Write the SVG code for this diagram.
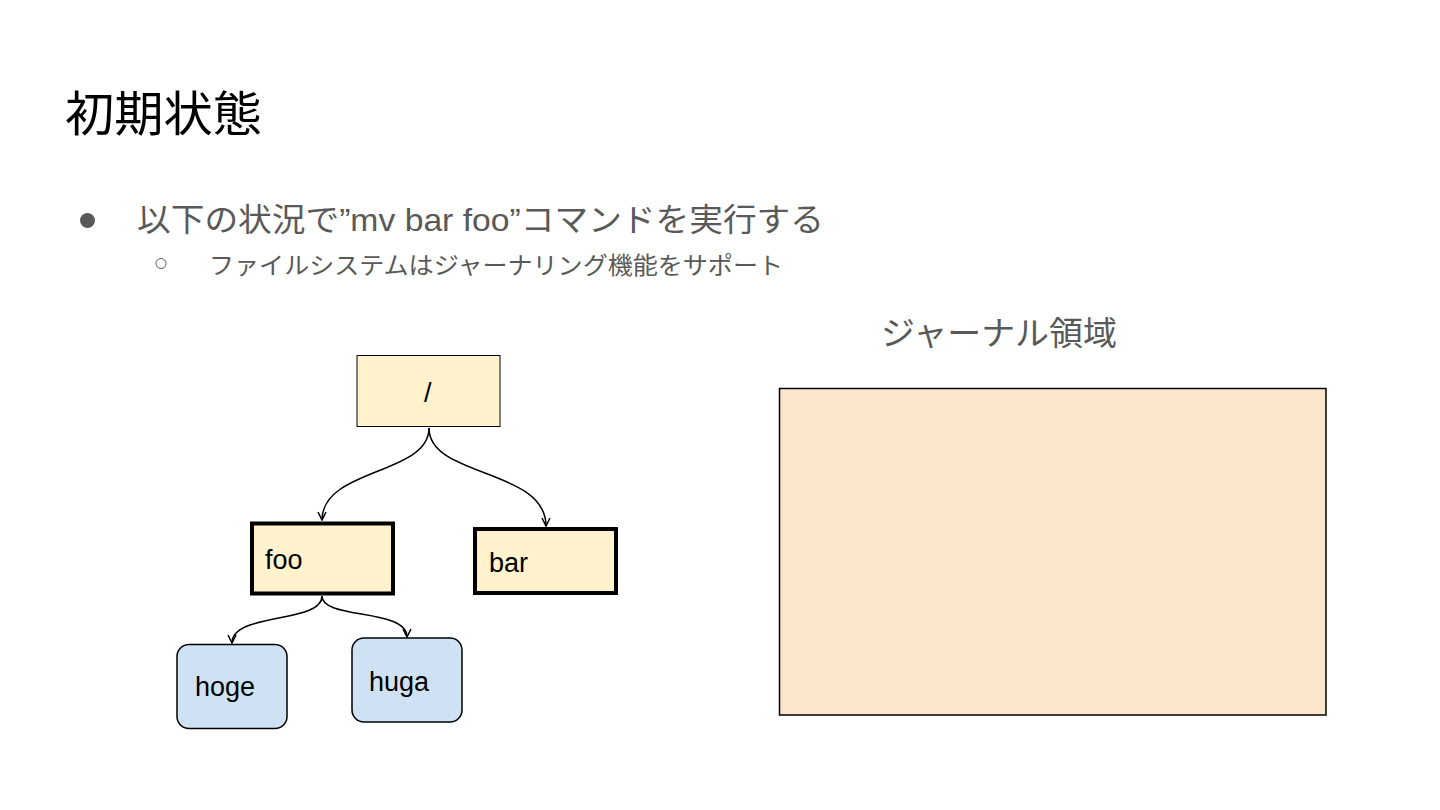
<svg xmlns="http://www.w3.org/2000/svg" width="1440" height="810" viewBox="0 0 1440 810">
  <style>
    .cjk { font-family: "Liberation Sans", "Noto Sans CJK JP", sans-serif; }
    .title { font-size: 48px; fill: #000000; }
    .b1 { font-size: 32px; fill: #595959; }
    .b2 { font-size: 24px; fill: #595959; }
    .lbl { font-family: "Liberation Sans", Arial, sans-serif; font-size: 27px; fill: #000000; }
    .dir { fill: #fff2cc; stroke: #000000; }
    .file { fill: #cfe2f3; stroke: #000000; stroke-width: 1.5; }
    .conn path { fill: none; stroke: #000000; stroke-width: 1.5; }
  </style>
  <defs>
    <marker id="arr" viewBox="0 0 10 10" refX="9" refY="5" markerWidth="10" markerHeight="10" markerUnits="userSpaceOnUse" orient="auto">
      <path d="M1,1 L9,5 L1,9" fill="none" stroke="#000000" stroke-width="1.5"/>
    </marker>
  </defs>
  <rect x="0" y="0" width="1440" height="810" fill="#ffffff"/>

  <g id="title">
    <text class="cjk title" x="65" y="131" textLength="197" lengthAdjust="spacingAndGlyphs">初期状態</text>
  </g>

  <g id="bullets">
    <circle cx="87.5" cy="220.5" r="7.5" fill="#595959"/>
    <text class="cjk b1" x="137" y="231" textLength="687" lengthAdjust="spacingAndGlyphs">以下の状況で”mv bar foo”コマンドを実行する</text>
    <circle cx="161" cy="263.5" r="5" fill="none" stroke="#595959" stroke-width="1"/>
    <text class="cjk b2" x="209" y="274" textLength="574" lengthAdjust="spacingAndGlyphs">ファイルシステムはジャーナリング機能をサポート</text>
  </g>

  <g id="connectors" class="conn">
    <path d="M429,428 C429,475 322,468 322,520" marker-end="url(#arr)"/>
    <path d="M429,428 C429,478 546,468 546,526" marker-end="url(#arr)"/>
    <path d="M322,596 C322,624 232,612 232,643" marker-end="url(#arr)"/>
    <path d="M322,596 C322,620 407,608 407,637" marker-end="url(#arr)"/>
  </g>

  <g id="node-root">
    <rect class="dir" x="357" y="355.5" width="143" height="71" stroke-width="1"/>
    <text class="lbl" x="424" y="401.5">/</text>
  </g>
  <g id="node-foo">
    <rect class="dir" x="252" y="523.5" width="141" height="70" stroke-width="4"/>
    <text class="lbl" x="265" y="569">foo</text>
  </g>
  <g id="node-bar">
    <rect class="dir" x="475" y="529" width="141" height="64" stroke-width="4"/>
    <text class="lbl" x="489" y="572">bar</text>
  </g>
  <g id="node-hoge">
    <rect class="file" x="177" y="644.5" width="110" height="84" rx="12"/>
    <text class="lbl" x="195" y="696">hoge</text>
  </g>
  <g id="node-huga">
    <rect class="file" x="352" y="638" width="110" height="84" rx="12"/>
    <text class="lbl" x="369" y="690.5">huga</text>
  </g>

  <g id="journal">
    <text class="cjk" x="881" y="345" font-size="33" fill="#595959" textLength="236" lengthAdjust="spacingAndGlyphs">ジャーナル領域</text>
    <rect x="779.5" y="388.5" width="546.5" height="326.5" fill="#fce5cd" stroke="#000000" stroke-width="1.5"/>
  </g>
</svg>
